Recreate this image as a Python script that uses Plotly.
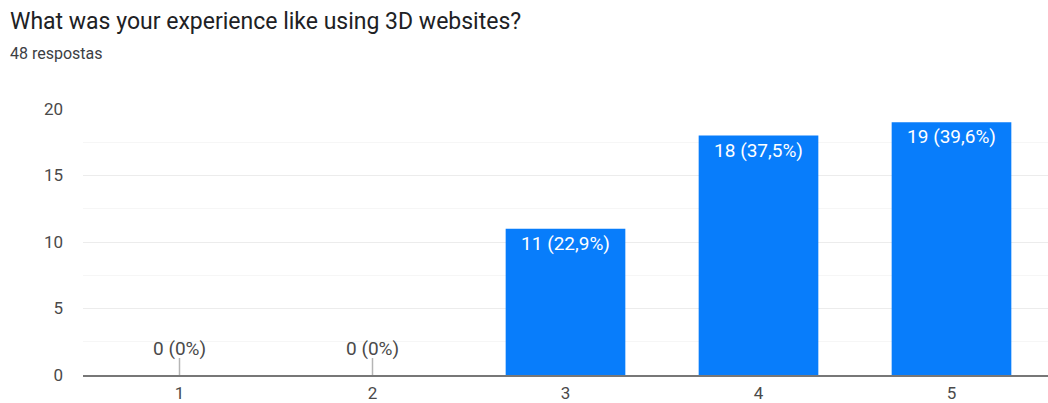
import plotly.graph_objects as go

categories = ["1", "2", "3", "4", "5"]
counts = [0, 0, 11, 18, 19]
percents = ["0%", "0%", "22,9%", "37,5%", "39,6%"]
title = "What was your experience like using 3D websites?"
subtitle = "48 respostas"
y_ticks = [0, 5, 10, 15, 20]

FONT = "Roboto, Arial, sans-serif"
BAR = "#087dfb"

labels = [f"{c} ({p})" for c, p in zip(counts, percents)]
xpos = [int(c) for c in categories]

fig = go.Figure()
fig.add_trace(go.Bar(
    x=xpos, y=counts,
    marker=dict(color=BAR, line=dict(width=0)),
    width=0.62,
    text=[l if c > 0 else "" for l, c in zip(labels, counts)],
    textposition="inside",
    insidetextanchor="end",
    textangle=0,
    textfont=dict(family=FONT, size=19, color="white"),
    cliponaxis=False,
    hoverinfo="skip",
))

for x, c, l in zip(xpos, counts, labels):
    if c == 0:
        fig.add_shape(type="line", xref="x", yref="y",
                      x0=x, x1=x, ysizemode="pixel", yanchor=c, y0=0, y1=17,
                      line=dict(color="#b5b5b5", width=1.5))
        fig.add_annotation(x=x, y=c, xref="x", yref="y", text=l,
                           showarrow=False, yshift=27,
                           font=dict(family=FONT, size=19, color="#4a4a4a"))

fig.add_annotation(text=title, xref="paper", yref="paper", x=0, y=1,
                   xanchor="left", yanchor="top", showarrow=False,
                   xshift=-75, yshift=103,
                   font=dict(family=FONT, size=23, color="#202124"))
fig.add_annotation(text=subtitle, xref="paper", yref="paper", x=0, y=1,
                   xanchor="left", yanchor="top", showarrow=False,
                   xshift=-75, yshift=67,
                   font=dict(family=FONT, size=16, color="#3c4043"))

fig.update_layout(
    width=1048, height=403,
    margin=dict(l=83, r=0, t=109, b=28),
    paper_bgcolor="white", plot_bgcolor="white",
    showlegend=False,
    bargap=0.38,
    font=dict(family=FONT, size=17, color="#4a4a4a"),
)
fig.update_xaxes(
    range=[0.5, 5.5], tickmode="array", tickvals=xpos, ticktext=categories,
    showgrid=False, zeroline=False, automargin=False,
    showline=True, linecolor="#777777", linewidth=2,
    ticks="", ticklabelstandoff=2,
    tickfont=dict(family=FONT, size=17, color="#4a4a4a"),
)
fig.update_yaxes(
    range=[0, 20], tickmode="array", tickvals=y_ticks,
    showgrid=True, gridcolor="#ececec", gridwidth=1,
    minor=dict(dtick=2.5, showgrid=True, gridcolor="#f6f6f6", gridwidth=1),
    zeroline=False, showline=False, ticks="", automargin=False,
    ticklabelstandoff=19,
    tickfont=dict(family=FONT, size=17, color="#4a4a4a"),
)

fig.write_html("out.html")
